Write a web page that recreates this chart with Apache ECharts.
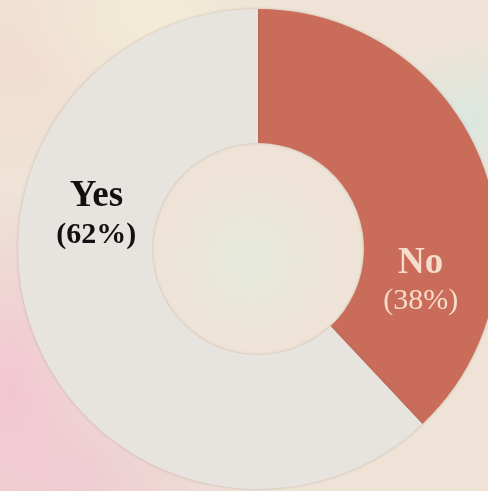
<!DOCTYPE html>
<html>
<head>
<meta charset="utf-8">
<script src="https://cdn.jsdelivr.net/npm/echarts@6/dist/echarts.min.js"></script>
<style>
html,body{margin:0;padding:0;}
body{
  width:488px;height:491px;overflow:hidden;
  background:
    radial-gradient(ellipse 110px 200px at 10px 390px, rgba(242,196,210,0.95), rgba(242,196,210,0) 100%),
    radial-gradient(ellipse 180px 120px at 80px 480px, rgba(238,200,210,0.85), rgba(238,200,210,0) 100%),
    radial-gradient(ellipse 140px 90px at 150px 20px, rgba(244,236,214,0.9), rgba(244,236,214,0) 100%),
    radial-gradient(ellipse 120px 120px at 20px 60px, rgba(242,220,208,0.9), rgba(242,220,208,0) 100%),
    radial-gradient(ellipse 100px 80px at 470px 120px, rgba(214,232,226,0.8), rgba(214,232,226,0) 100%),
    radial-gradient(ellipse 90px 90px at 250px 260px, rgba(226,238,224,0.7), rgba(226,238,224,0) 100%),
    #eee3d6;
}
#chart{width:488px;height:491px;}
</style>
</head>
<body>
<div id="chart"></div>
<script>
const categories = ["No", "Yes"];
const values = [38, 62];
const percentLabels = ["(38%)", "(62%)"];

const chart = echarts.init(document.getElementById('chart'), null, {renderer:'canvas'});

const itemColors = ["#c96c5a", "#e7e3df"];
const labelStyles = [
  {offset:[-1, 97], color:"#f7dccb", pctWeight:"normal"},
  {offset:[2, -99], color:"#111111", pctWeight:"bold"}
];

const data = categories.map((c, i) => ({
  name: c,
  value: values[i],
  itemStyle: {color: itemColors[i]},
  label: {
    offset: labelStyles[i].offset,
    formatter: '{a|' + c + '}\n{b|' + percentLabels[i] + '}',
    rich: {
      a: {fontFamily:'Liberation Serif', fontWeight:'bold', fontSize:37, lineHeight:40, color:labelStyles[i].color, align:'center'},
      b: {fontFamily:'Liberation Serif', fontWeight:labelStyles[i].pctWeight, fontSize:30, lineHeight:36, color:labelStyles[i].color, align:'center'}
    }
  }
}));

chart.setOption({
  backgroundColor: 'transparent',
  animation: false,
  series: [{
    type: 'pie',
    center: [258, 249],
    radius: [106, 240],
    startAngle: 90,
    clockwise: true,
    avoidLabelOverlap: false,
    label: {show: true, position: 'inside'},
    labelLine: {show: false},
    itemStyle: {
      borderWidth: 0,
      shadowColor: 'rgba(120,100,90,0.35)',
      shadowBlur: 3
    },
    emphasis: {disabled: true},
    data: data
  }]
});
</script>
</body>
</html>
